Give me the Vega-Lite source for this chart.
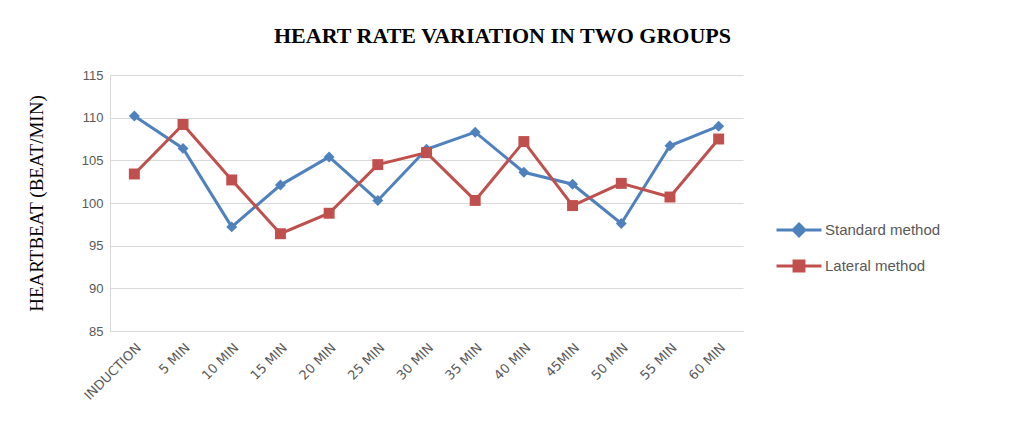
{
  "$schema": "https://vega.github.io/schema/vega-lite/v6.json",
  "width": 633,
  "height": 256,
  "autosize": {"type": "none"},
  "padding": {"left": 110, "top": 75, "right": 268, "bottom": 112},
  "background": "white",
  "config": {"view": {"stroke": null}},
  "title": {
    "text": "HEART RATE VARIATION  IN TWO GROUPS",
    "font": "Liberation Serif",
    "fontSize": 22,
    "fontWeight": "bold",
    "color": "#000000",
    "anchor": "middle",
    "dx": 76,
    "offset": 21
  },
  "data": {
    "values": [
      {"time": "INDUCTION", "group": "Standard method", "hr": 110.2},
      {"time": "5 MIN", "group": "Standard method", "hr": 106.4},
      {"time": "10 MIN", "group": "Standard method", "hr": 97.2},
      {"time": "15 MIN", "group": "Standard method", "hr": 102.1},
      {"time": "20 MIN", "group": "Standard method", "hr": 105.4},
      {"time": "25 MIN", "group": "Standard method", "hr": 100.3},
      {"time": "30 MIN", "group": "Standard method", "hr": 106.3},
      {"time": "35 MIN", "group": "Standard method", "hr": 108.3},
      {"time": "40 MIN", "group": "Standard method", "hr": 103.6},
      {"time": "45MIN", "group": "Standard method", "hr": 102.2},
      {"time": "50 MIN", "group": "Standard method", "hr": 97.6},
      {"time": "55 MIN", "group": "Standard method", "hr": 106.7},
      {"time": "60 MIN", "group": "Standard method", "hr": 109.0},
      {"time": "INDUCTION", "group": "Lateral method", "hr": 103.4},
      {"time": "5 MIN", "group": "Lateral method", "hr": 109.2},
      {"time": "10 MIN", "group": "Lateral method", "hr": 102.7},
      {"time": "15 MIN", "group": "Lateral method", "hr": 96.4},
      {"time": "20 MIN", "group": "Lateral method", "hr": 98.8},
      {"time": "25 MIN", "group": "Lateral method", "hr": 104.5},
      {"time": "30 MIN", "group": "Lateral method", "hr": 105.9},
      {"time": "35 MIN", "group": "Lateral method", "hr": 100.3},
      {"time": "40 MIN", "group": "Lateral method", "hr": 107.2},
      {"time": "45MIN", "group": "Lateral method", "hr": 99.7},
      {"time": "50 MIN", "group": "Lateral method", "hr": 102.3},
      {"time": "55 MIN", "group": "Lateral method", "hr": 100.7},
      {"time": "60 MIN", "group": "Lateral method", "hr": 107.5}
    ]
  },
  "encoding": {
    "x": {
      "field": "time",
      "type": "nominal",
      "sort": null,
      "scale": {"type": "point", "padding": 0.5},
      "axis": {
        "title": null,
        "labelAngle": -45,
        "labelFont": "DejaVu Sans",
        "labelFontSize": 13,
        "labelColor": "#595959",
        "labelPadding": 10,
        "ticks": false,
        "domainColor": "#d9d9d9",
        "domainWidth": 1,
        "grid": false
      }
    },
    "y": {
      "field": "hr",
      "type": "quantitative",
      "scale": {"domain": [85, 115], "zero": false, "nice": false},
      "axis": {
        "values": [85, 90, 95, 100, 105, 110, 115],
        "title": "HEARTBEAT (BEAT/MIN)",
        "titleFont": "Liberation Serif",
        "titleFontSize": 19,
        "titleFontWeight": "normal",
        "titleColor": "#000000",
        "titleX": -64,
        "titleY": 128,
        "labelFont": "Liberation Sans",
        "labelFontSize": 13,
        "labelColor": "#595959",
        "labelPadding": 7,
        "ticks": false,
        "domainColor": "#d9d9d9",
        "gridColor": "#d9d9d9",
        "gridWidth": 1
      }
    },
    "color": {
      "field": "group",
      "type": "nominal",
      "scale": {"domain": ["Standard method", "Lateral method"], "range": ["#4F81BD", "#C0504D"]},
      "legend": {
        "title": null,
        "orient": "none",
        "legendX": 665,
        "legendY": 131,
        "labelFont": "Liberation Sans",
        "labelFontSize": 15,
        "labelColor": "#595959",
        "labelOffset": 2,
        "rowPadding": -8,
        "symbolSize": 2025,
        "symbolStrokeWidth": 3,
        "encode": {
          "symbols": {
            "update": {
              "shape": {"signal": "datum.value === 'Standard method' ? 'M-1,0H1M0,-0.26L0.26,0L0,0.26L-0.26,0Z' : 'M-1,0H1M-0.22,-0.22H0.22V0.22H-0.22Z'"},
              "fill": {"signal": "datum.value === 'Standard method' ? '#4F81BD' : '#C0504D'"},
              "stroke": {"signal": "datum.value === 'Standard method' ? '#4F81BD' : '#C0504D'"},
              "fillOpacity": {"value": 1},
              "strokeWidth": {"value": 3}
            }
          }
        }
      }
    }
  },
  "layer": [
    {
      "mark": {"type": "line", "strokeWidth": 3}
    },
    {
      "mark": {"type": "point", "filled": true, "opacity": 1, "size": 120},
      "encoding": {
        "shape": {
          "condition": {"test": "datum.group === 'Standard method'", "value": "diamond"},
          "value": "square"
        }
      }
    }
  ]
}
